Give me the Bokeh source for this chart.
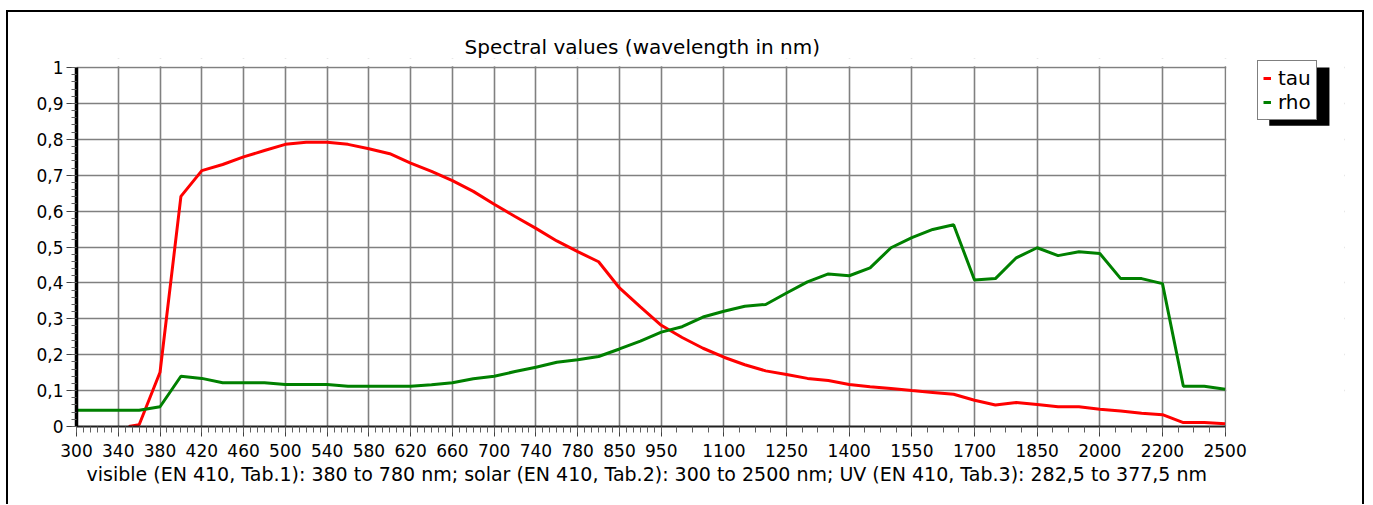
import numpy as np
from bokeh.plotting import figure
from bokeh.models import FixedTicker, Legend, LegendItem, Range1d, BoxAnnotation, Title
from bokeh.embed import file_html
from bokeh.resources import INLINE

# ---------------- data ----------------
wavelength = [300, 320, 340, 350, 360, 380, 400, 420, 440, 460, 480, 500, 520, 540, 560,
              580, 600, 620, 640, 660, 680, 700, 720, 740, 760, 780, 800, 850, 900, 950,
              1000, 1050, 1100, 1150, 1200, 1250, 1300, 1350, 1400, 1450, 1500, 1550, 1600,
              1650, 1700, 1750, 1800, 1850, 1900, 1950, 2000, 2050, 2100, 2200, 2300, 2400, 2500]

tau = [np.nan, np.nan, np.nan, 0.0, 0.005, 0.151, 0.641, 0.713, 0.730, 0.751, 0.769, 0.786,
       0.792, 0.792, 0.786, 0.774, 0.760, 0.734, 0.711, 0.685, 0.655, 0.619, 0.585, 0.552,
       0.517, 0.487, 0.459, 0.386, 0.333, 0.282, 0.248, 0.218, 0.193, 0.172, 0.155, 0.145,
       0.134, 0.128, 0.117, 0.111, 0.106, 0.100, 0.095, 0.090, 0.073, 0.060, 0.067, 0.061,
       0.055, 0.055, 0.048, 0.043, 0.037, 0.033, 0.011, 0.011, 0.0075]

rho = [0.045, 0.045, 0.045, 0.045, 0.045, 0.055, 0.140, 0.134, 0.122, 0.122, 0.122, 0.117,
       0.117, 0.117, 0.112, 0.112, 0.112, 0.112, 0.116, 0.122, 0.133, 0.140, 0.153, 0.165,
       0.179, 0.186, 0.195, 0.216, 0.238, 0.263, 0.278, 0.305, 0.321, 0.335, 0.340, 0.372,
       0.403, 0.425, 0.420, 0.442, 0.498, 0.526, 0.549, 0.562, 0.408, 0.412, 0.470, 0.498,
       0.476, 0.487, 0.482, 0.412, 0.412, 0.398, 0.112, 0.112, 0.104]

x_tick_labels = [300, 340, 380, 420, 460, 500, 540, 580, 620, 660, 700, 740, 780, 850, 950,
                 1100, 1250, 1400, 1550, 1700, 1850, 2000, 2200, 2500]
y_tick_values = [0.0, 0.1, 0.2, 0.3, 0.4, 0.5, 0.6, 0.7, 0.8, 0.9, 1.0]

title_text = "Spectral values  (wavelength in nm)"
x_title = ("visible (EN 410, Tab.1): 380 to 780 nm;  solar (EN 410, Tab.2): 300 to 2500 nm; "
           "UV (EN 410, Tab.3): 282,5 to 377,5 nm")

# ------------- axis mapping (chart uses a sample-indexed x axis above 780 nm) -------------
wl = np.array(wavelength, dtype=float)
i780 = wavelength.index(780)
pos = np.where(wl <= 780, (wl - 300.0) / 40.0, 12.0 + 0.5 * (np.arange(len(wl)) - i780))
tick_pos = [float(np.interp(t, wl, pos)) for t in x_tick_labels]
xmax = tick_pos[-1]
minor = list(np.arange(0, 14, 1 / 6.0)) + list(np.arange(14, xmax + 1e-9, 0.375))

# layout (pixels)
W, H = 1358, 494
DATA_PX, DATA_PY = 1145, 357      # pixel size of the 300..2500 x 0..1 data area
EXT_TOP = 9                       # frame extends above y=1 (room for the legend)
BL, BR, BT = 68, 22, 55 - EXT_TOP
frame_px = (W - 4) - BL - BR
frame_py = DATA_PY + EXT_TOP
BB = (H - 2) - BT - frame_py
x_end = xmax * frame_px / DATA_PX
y_end = frame_py / DATA_PY
px_unit = DATA_PX / xmax
py_unit = float(DATA_PY)

FONT = "DejaVu Sans"

p = figure(width=W, height=H, output_backend="svg", toolbar_location=None,
           x_range=Range1d(0, x_end), y_range=Range1d(0, y_end),
           min_border_left=BL, min_border_right=BR, min_border_top=BT, min_border_bottom=BB)
p.margin = (10, 0, 0, 6)
p.styles = {"border-left": "2px solid black", "border-top": "2px solid black",
            "border-right": "2px solid black"}
p.outline_line_color = None
p.background_fill_color = "white"
p.border_fill_color = "white"

p.title.text = title_text
p.title.align = "left"
p.title.offset = 388
p.title.standoff = 0
p.title.text_font = FONT
p.title.text_font_size = "20px"
p.title.text_font_style = "normal"
p.title.text_color = "black"

r_tau = p.line(pos, tau, line_color="#ff0000", line_width=3)
r_rho = p.line(pos, rho, line_color="#008000", line_width=3)

xt = FixedTicker(ticks=tick_pos, minor_ticks=minor)
p.xaxis.ticker = xt
p.xaxis.bounds = (0, xmax)
p.xaxis.major_label_overrides = {tp: str(t) for tp, t in zip(tick_pos, x_tick_labels)}
yt = FixedTicker(ticks=y_tick_values, minor_ticks=[round(i * 0.02, 2) for i in range(51)])
p.yaxis.ticker = yt
p.yaxis.bounds = (0, 1)
p.yaxis.major_label_overrides = {v: ("0" if v == 0 else "1" if v == 1 else f"{v:.1f}".replace(".", ","))
                                 for v in y_tick_values}

for ax in (p.xaxis[0], p.yaxis[0]):
    ax.major_label_text_font = FONT
    ax.major_label_text_font_size = "17px"
    ax.major_label_text_color = "black"
    ax.major_tick_in = 0
    ax.minor_tick_in = 0
    ax.major_tick_line_color = "#404040"
    ax.minor_tick_line_color = "#606060"

p.xaxis.axis_line_color = "#202020"
p.xaxis.axis_line_width = 2
p.xaxis.major_tick_out = 10
p.xaxis.minor_tick_out = 6
p.xaxis.major_label_standoff = 7

p.yaxis.axis_line_color = "black"
p.yaxis.axis_line_width = 3.5
p.yaxis.major_tick_out = 10
p.yaxis.minor_tick_out = 5
p.yaxis.major_label_standoff = 3

# x axis title as a left-aligned title below the axis (centred under the data area)
p.add_layout(Title(text=x_title, align="left", offset=10, standoff=3,
                   text_font=FONT, text_font_size="19px", text_font_style="normal",
                   text_color="black"), "below")

p.xgrid.ticker = xt
p.ygrid.ticker = yt
for g in (p.xgrid[0], p.ygrid[0]):
    g.grid_line_color = "#808080"
    g.grid_line_width = 1.6

# blank areas outside the data area (legend lives there)
p.add_layout(BoxAnnotation(left=xmax + 1.2 / px_unit, fill_color="white", fill_alpha=1.0,
                           line_color=None, level="annotation"))
p.add_layout(BoxAnnotation(bottom=1 + 1.2 / py_unit, fill_color="white", fill_alpha=1.0,
                           line_color=None, level="annotation"))

# legend with drop shadow
LEG_X, LEG_Y, LEG_W, LEG_H, SH_DX, SH_DY = 1181, 306, 60, 58, 8, 7
p.add_layout(BoxAnnotation(left=(LEG_X + SH_DX) / px_unit, right=(LEG_X + SH_DX + LEG_W) / px_unit,
                           bottom=(LEG_Y - SH_DY) / py_unit, top=(LEG_Y - SH_DY + LEG_H) / py_unit,
                           fill_color="black", fill_alpha=1.0, line_color=None, level="annotation"))
legend = Legend(items=[LegendItem(label="tau", renderers=[r_tau]),
                       LegendItem(label="rho", renderers=[r_rho])],
                location=(LEG_X, LEG_Y), orientation="vertical",
                glyph_width=8, glyph_height=24, label_height=24, label_standoff=7,
                padding=5, spacing=0, margin=0,
                label_text_font=FONT, label_text_font_size="20px",
                label_text_color="black",
                background_fill_color="white", background_fill_alpha=1.0,
                border_line_color="black", border_line_width=1)
p.add_layout(legend, "center")

open("out.html", "w").write(file_html(p, INLINE))
